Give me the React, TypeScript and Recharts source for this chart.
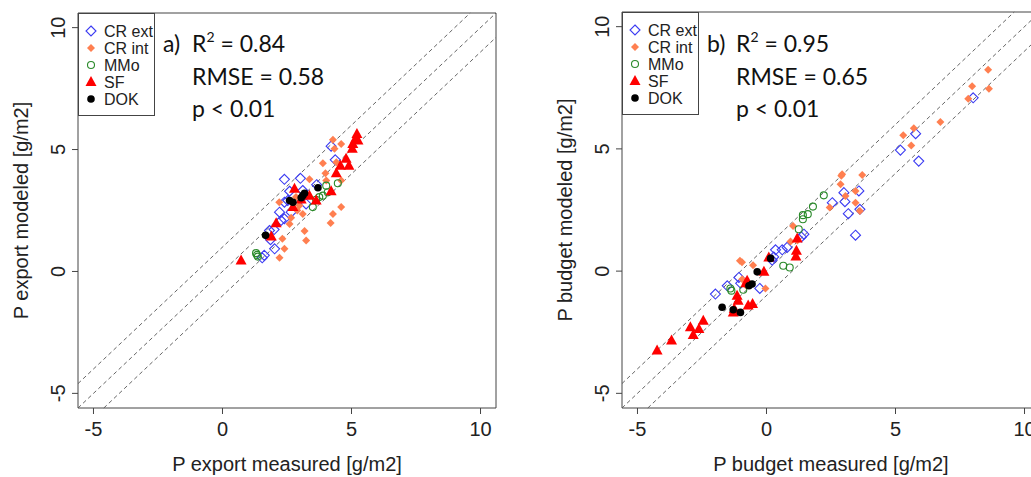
import React from "react";
import { ScatterChart, Scatter, XAxis, YAxis, ReferenceLine, ReferenceArea, Label } from "recharts";

type Pt = { x: number; y: number };

// panel a: P export (measured vs modeled)
const exportCrExt: Pt[] = [
  { x: 4.21, y: 5.14 }, { x: 4.37, y: 4.58 }, { x: 2.4, y: 3.78 }, { x: 3.02, y: 3.82 },
  { x: 2.6, y: 3.29 }, { x: 3.11, y: 3.32 }, { x: 3.65, y: 3.56 }, { x: 2.4, y: 2.84 },
  { x: 2.53, y: 2.91 }, { x: 2.21, y: 2.43 }, { x: 2.66, y: 2.43 }, { x: 2.4, y: 2.16 },
  { x: 2.27, y: 2.09 }, { x: 3.24, y: 2.77 }, { x: 1.82, y: 1.68 }, { x: 2.0, y: 1.72 },
  { x: 1.86, y: 1.3 }, { x: 2.02, y: 0.93 }, { x: 1.54, y: 0.56 }, { x: 1.62, y: 0.66 },
];
const exportCrInt: Pt[] = [
  { x: 4.28, y: 5.4 }, { x: 4.6, y: 5.23 }, { x: 4.34, y: 5.03 }, { x: 3.89, y: 4.44 },
  { x: 4.41, y: 4.48 }, { x: 3.99, y: 4.03 }, { x: 3.37, y: 3.78 }, { x: 4.02, y: 3.73 },
  { x: 4.6, y: 3.73 }, { x: 2.2, y: 2.84 }, { x: 2.98, y: 2.7 }, { x: 3.11, y: 2.36 },
  { x: 2.66, y: 2.2 }, { x: 2.6, y: 1.95 }, { x: 2.32, y: 1.34 }, { x: 3.18, y: 1.66 },
  { x: 3.24, y: 1.27 }, { x: 2.4, y: 0.93 }, { x: 2.21, y: 0.56 }, { x: 4.28, y: 2.36 },
  { x: 4.6, y: 2.64 }, { x: 4.19, y: 1.99 }, { x: 2.85, y: 3.05 }, { x: 2.9, y: 2.5 },
];
const exportMMo: Pt[] = [
  { x: 4.47, y: 3.62 }, { x: 4.02, y: 3.52 }, { x: 4.08, y: 3.25 }, { x: 3.89, y: 3.11 },
  { x: 3.63, y: 2.94 }, { x: 3.5, y: 2.64 }, { x: 3.75, y: 3.05 }, { x: 1.3, y: 0.75 },
  { x: 1.37, y: 0.61 }, { x: 1.34, y: 0.68 },
];
const exportSF: Pt[] = [
  { x: 5.21, y: 5.64 }, { x: 5.16, y: 5.44 }, { x: 5.05, y: 5.23 }, { x: 5.25, y: 5.37 },
  { x: 5.03, y: 5.03 }, { x: 4.79, y: 4.62 }, { x: 4.57, y: 4.34 }, { x: 4.9, y: 4.34 },
  { x: 4.41, y: 4.03 }, { x: 4.21, y: 3.29 }, { x: 3.63, y: 2.91 }, { x: 3.37, y: 3.11 },
  { x: 2.79, y: 3.39 }, { x: 2.73, y: 2.64 }, { x: 2.08, y: 1.98 }, { x: 1.89, y: 1.43 },
  { x: 0.72, y: 0.45 }, { x: 3.05, y: 2.95 },
];
const exportDok: Pt[] = [
  { x: 3.7, y: 3.43 }, { x: 3.11, y: 3.11 }, { x: 3.05, y: 3.02 }, { x: 3.18, y: 3.21 },
  { x: 2.6, y: 2.91 }, { x: 2.73, y: 2.84 }, { x: 1.67, y: 1.48 },
];

// panel b: P budget (measured vs modeled)
const budgetCrExt: Pt[] = [
  { x: 8.01, y: 7.09 }, { x: 5.78, y: 5.62 }, { x: 5.19, y: 4.95 }, { x: 5.9, y: 4.5 },
  { x: 3.0, y: 3.21 }, { x: 3.58, y: 3.28 }, { x: 2.55, y: 2.8 }, { x: 3.04, y: 2.84 },
  { x: 3.17, y: 2.35 }, { x: 3.62, y: 2.53 }, { x: 3.45, y: 1.47 }, { x: 1.45, y: 1.51 },
  { x: 1.35, y: 1.4 }, { x: 0.35, y: 0.87 }, { x: 0.61, y: 0.87 }, { x: 0.8, y: 0.97 },
  { x: 0.22, y: 0.45 }, { x: 0.28, y: 0.58 }, { x: -1.07, y: -0.26 }, { x: -1.52, y: -0.6 },
  { x: -1.98, y: -0.94 }, { x: -0.26, y: -0.71 }, { x: -1.0, y: -0.5 },
];
const budgetCrInt: Pt[] = [
  { x: 8.59, y: 8.24 }, { x: 7.97, y: 7.56 }, { x: 8.62, y: 7.46 }, { x: 7.82, y: 7.05 },
  { x: 6.74, y: 6.1 }, { x: 5.71, y: 5.84 }, { x: 5.3, y: 5.56 }, { x: 5.61, y: 5.14 },
  { x: 2.93, y: 3.96 }, { x: 2.9, y: 3.9 }, { x: 2.87, y: 3.55 }, { x: 3.71, y: 3.93 },
  { x: 3.45, y: 3.28 }, { x: 3.06, y: 3.07 }, { x: 3.45, y: 2.8 }, { x: 3.62, y: 2.46 },
  { x: 2.45, y: 2.6 }, { x: 1.03, y: 1.85 }, { x: 0.93, y: 1.21 }, { x: 1.2, y: 1.25 },
  { x: -1.03, y: 0.42 }, { x: -0.95, y: 0.36 }, { x: -0.52, y: 0.24 }, { x: -0.94, y: -0.33 },
  { x: -0.78, y: -0.6 }, { x: -0.04, y: -0.71 },
];
const budgetMMo: Pt[] = [
  { x: 2.22, y: 3.1 }, { x: 1.8, y: 2.64 }, { x: 1.6, y: 2.33 }, { x: 1.41, y: 2.29 },
  { x: 1.41, y: 2.12 }, { x: 1.25, y: 1.71 }, { x: 0.65, y: 0.22 }, { x: 0.9, y: 0.15 },
  { x: -1.4, y: -0.71 }, { x: -1.36, y: -0.8 }, { x: -0.9, y: -0.76 },
];
const budgetSF: Pt[] = [
  { x: 1.19, y: 1.33 }, { x: 1.16, y: 0.83 }, { x: 1.14, y: 0.6 }, { x: 0.09, y: 0.56 },
  { x: -0.1, y: -0.03 }, { x: -0.75, y: -0.39 }, { x: -1.14, y: -1.01 }, { x: -1.1, y: -1.21 },
  { x: -1.29, y: -1.69 }, { x: -1.25, y: -1.55 }, { x: -0.71, y: -1.41 }, { x: -0.54, y: -1.35 },
  { x: -2.45, y: -2.03 }, { x: -2.95, y: -2.3 }, { x: -2.62, y: -2.37 }, { x: -2.84, y: -2.61 },
  { x: -3.68, y: -2.84 }, { x: -4.24, y: -3.25 }, { x: -0.8, y: -0.5 },
];
const budgetDok: Pt[] = [
  { x: -0.36, y: -0.03 }, { x: -0.56, y: -0.53 }, { x: -0.68, y: -0.6 }, { x: 0.16, y: 0.52 },
  { x: -1.72, y: -1.48 }, { x: -1.29, y: -1.58 }, { x: -1.01, y: -1.69 },
];

const groupNames = ["CR ext", "CR int", "MMo", "SF", "DOK"];
const groupMarkers = ["openDiamond", "smallDiamond", "openCircle", "triangle", "dot"];

const axisDomain: [number, number] = [-5.6, 10.6];
const axisTicks = [-5, 0, 5, 10];
const bandOffsets = [1, 0, -1];

const exportStats = ["a)", "0.84", "0.58", "0.01"];
const budgetStats = ["b)", "0.95", "0.65", "0.01"];

const AXIS_FONT = "'Liberation Sans', Arial, sans-serif";
const NOTE_FONT = "Lato, 'Open Sans', sans-serif";

function drawMarker(kind: string, cx: number, cy: number) {
  if (kind === "openDiamond") {
    return <path d={`M${cx} ${cy - 5}L${cx + 5} ${cy}L${cx} ${cy + 5}L${cx - 5} ${cy}Z`} fill="none" stroke="#3b3bf2" strokeWidth={1.1} />;
  }
  if (kind === "smallDiamond") {
    return <path d={`M${cx} ${cy - 4}L${cx + 4} ${cy}L${cx} ${cy + 4}L${cx - 4} ${cy}Z`} fill="#ff7f50" />;
  }
  if (kind === "openCircle") {
    return <circle cx={cx} cy={cy} r={3.5} fill="none" stroke="#2a8a2a" strokeWidth={1.1} />;
  }
  if (kind === "triangle") {
    return <path d={`M${cx} ${cy - 6}L${cx + 5.5} ${cy + 4}L${cx - 5.5} ${cy + 4}Z`} fill="#ff0000" />;
  }
  return <circle cx={cx} cy={cy} r={3.8} fill="#000" />;
}

const YTick = (props: any) => {
  const { x, y, payload } = props;
  const cx = x - 12;
  return (
    <text x={cx} y={y} dy="0.36em" textAnchor="middle" transform={`rotate(-90, ${cx}, ${y})`}
      fontSize={20} fontFamily={AXIS_FONT} fill="#222">
      {payload.value}
    </text>
  );
};

interface PanelProps {
  left: number;
  yAxisWidth: number;
  top: number;
  rightMargin: number;
  xTitle: string;
  yTitle: string;
  series: Pt[][];
  stats: string[];
}

const Panel = ({ left, yAxisWidth, top, rightMargin, xTitle, yTitle, series, stats }: PanelProps) => {
  const [lo, hi] = axisDomain;
  return (
    <div style={{ position: "absolute", left, top: 0, width: 520, height: 477 }}>
      <ScatterChart width={520} height={477} margin={{ top, right: rightMargin, bottom: 0, left: 0 }}>
        <XAxis type="number" dataKey="x" domain={axisDomain} ticks={axisTicks} allowDataOverflow
          axisLine={false} tickLine={{ stroke: "#444" }} tickSize={6} tickMargin={8} height={69}
          tick={{ fontSize: 20, fontFamily: AXIS_FONT, fill: "#222" }}>
          <Label content={(p: any) => (
            <text x={p.viewBox.x + p.viewBox.width / 2} y={471} textAnchor="middle"
              fontSize={20} fontFamily={AXIS_FONT} fill="#222">{xTitle}</text>
          )} />
        </XAxis>
        <YAxis type="number" dataKey="y" domain={axisDomain} ticks={axisTicks} allowDataOverflow
          axisLine={false} tickLine={{ stroke: "#444" }} tickSize={6} tickMargin={2} width={yAxisWidth}
          tick={<YTick />}>
          <Label content={(p: any) => {
            const cx = p.viewBox.x + p.viewBox.width - 57;
            const cy = p.viewBox.y + p.viewBox.height / 2;
            return (
              <text x={cx} y={cy} dy="0.36em" textAnchor="middle" transform={`rotate(-90, ${cx}, ${cy})`}
                fontSize={20} fontFamily={AXIS_FONT} fill="#222">{yTitle}</text>
            );
          }} />
        </YAxis>
        <ReferenceArea x1={lo} x2={hi} y1={lo} y2={hi} fill="none" stroke="#444" strokeWidth={1} />
        {bandOffsets.map((o) => (
          <ReferenceLine key={o} segment={[
            { x: Math.max(lo, lo - o), y: Math.max(lo, lo - o) + o },
            { x: Math.min(hi, hi - o), y: Math.min(hi, hi - o) + o },
          ]} stroke="#555" strokeWidth={0.9} strokeDasharray="4 3" />
        ))}
        {series.map((pts, i) => (
          <Scatter key={groupNames[i]} name={groupNames[i]} data={pts} isAnimationActive={false}
            shape={(p: any) => drawMarker(groupMarkers[i], p.cx, p.cy)} />
        ))}
      </ScatterChart>
      <svg width={520} height={477} style={{ position: "absolute", left: 0, top: 0, pointerEvents: "none" }}>
        <rect x={yAxisWidth + 0.5} y={top + 0.5} width={76} height={102} fill="#fff" stroke="#444" />
        {groupNames.map((name, i) => (
          <g key={name}>
            {drawMarker(groupMarkers[i], yAxisWidth + 13, top + 18 + 17 * i)}
            <text x={yAxisWidth + 26} y={top + 18 + 17 * i} dy="0.36em" fontSize={16}
              fontFamily={AXIS_FONT} fill="#222">{name}</text>
          </g>
        ))}
        <g fontFamily={NOTE_FONT} fontSize={23} fill="#111">
          <text x={yAxisWidth + 85} y={52}>{stats[0]}</text>
          <text x={yAxisWidth + 114} y={52}>
            R<tspan fontSize={14} dy={-10}>2</tspan><tspan dy={10}> = {stats[1]}</tspan>
          </text>
          <text x={yAxisWidth + 114} y={85}>RMSE = {stats[2]}</text>
          <text x={yAxisWidth + 114} y={117}>p &lt; {stats[3]}</text>
        </g>
      </svg>
    </div>
  );
}

export default function App() {
  return (
    <div style={{ position: "fixed", left: 0, top: 0, width: 1031, height: 477, overflow: "hidden", background: "#fff" }}>
      <Panel left={0} yAxisWidth={78} top={13} rightMargin={24}
        xTitle="P export measured [g/m2]" yTitle="P export modeled [g/m2]"
        series={[exportCrExt, exportCrInt, exportMMo, exportSF, exportDok]} stats={exportStats} />
      <Panel left={530} yAxisWidth={92} top={12} rightMargin={10}
        xTitle="P budget measured [g/m2]" yTitle="P budget modeled [g/m2]"
        series={[budgetCrExt, budgetCrInt, budgetMMo, budgetSF, budgetDok]} stats={budgetStats} />
    </div>
  );
}
